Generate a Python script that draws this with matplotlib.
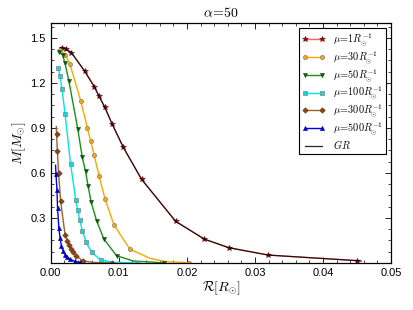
import matplotlib
matplotlib.use("Agg")
import matplotlib.pyplot as plt
from matplotlib.ticker import MultipleLocator

plt.rcParams['font.family'] = ['Liberation Sans', 'DejaVu Sans']
plt.rcParams['mathtext.fontset'] = 'cm'

# mu = 1 R_sun^-1
r1 = [0.00162, 0.00221, 0.00304, 0.0050, 0.00637, 0.00706, 0.00794, 0.00901,
      0.01066, 0.01334, 0.01834, 0.02257, 0.02618, 0.03196, 0.04496]
m1 = [1.434, 1.427, 1.401, 1.277, 1.176, 1.114, 1.037, 0.926,
      0.770, 0.557, 0.277, 0.158, 0.101, 0.052, 0.015]
# mu = 30
r30 = [0.00132, 0.00213, 0.00279, 0.00441, 0.00537, 0.00584, 0.00637, 0.0071,
       0.00799, 0.00929, 0.01162, 0.0146, 0.0170, 0.02037]
m30 = [1.419, 1.389, 1.329, 1.078, 0.901, 0.814, 0.718, 0.579,
       0.423, 0.252, 0.091, 0.030, 0.008, 0.001]
# mu = 50
r50 = [0.00125, 0.00172, 0.00206, 0.00265, 0.00397, 0.00463, 0.0051, 0.00549,
       0.00593, 0.00672, 0.00779, 0.00966, 0.0121, 0.01662]
m50 = [1.406, 1.386, 1.336, 1.215, 0.891, 0.703, 0.612, 0.510,
       0.405, 0.282, 0.160, 0.048, 0.013, 0.0]
# mu = 100
r100 = [0.0011, 0.00135, 0.00165, 0.0021, 0.0029, 0.00368, 0.00394, 0.00426,
        0.00463, 0.00519, 0.00599, 0.00732, 0.0093, 0.01284]
m100 = [1.299, 1.248, 1.159, 0.992, 0.661, 0.416, 0.354, 0.284,
        0.215, 0.136, 0.072, 0.019, 0.004, 0.0]
# mu = 300
r300 = [0.00081, 0.00084, 0.00097, 0.00115, 0.00144, 0.0021, 0.00243, 0.00268,
        0.00294, 0.00324, 0.00375, 0.00475, 0.0062, 0.00893]
m300 = [0.909, 0.859, 0.745, 0.597, 0.413, 0.186, 0.148, 0.117,
        0.094, 0.070, 0.045, 0.013, 0.003, 0.0]
# mu = 500
r500 = [0.0007, 0.00076, 0.00091, 0.00099, 0.00118, 0.00137, 0.00157, 0.00184,
        0.00213, 0.00243, 0.00287, 0.00353, 0.00426]
m500 = [0.651, 0.591, 0.483, 0.366, 0.235, 0.164, 0.111, 0.077,
        0.054, 0.037, 0.023, 0.010, 0.003]
# GR
rgr = [0.00140, 0.00162, 0.00221, 0.00304, 0.0050, 0.00637, 0.00706, 0.00794, 0.00901,
       0.01066, 0.01334, 0.01834, 0.02257, 0.02618, 0.03196, 0.04496, 0.0456]
mgr = [1.436, 1.434, 1.427, 1.401, 1.277, 1.176, 1.114, 1.037, 0.926,
       0.770, 0.557, 0.277, 0.158, 0.101, 0.052, 0.015, 0.012]

labels = [r'$\mu\!=\!1R_{\odot}^{-1}$', r'$\mu\!=\!30R_{\odot}^{-1}$',
          r'$\mu\!=\!50R_{\odot}^{-1}$', r'$\mu\!=\!100R_{\odot}^{-1}$',
          r'$\mu\!=\!300R_{\odot}^{-1}$', r'$\mu\!=\!500R_{\odot}^{-1}$']

def skip(n, drop):
    return [i for i in range(n) if i not in drop]

fig = plt.figure(figsize=(4.13, 3.10), dpi=100)
ax = fig.add_axes([0.123, 0.152, 0.824, 0.774])

ms = 3.0
ec = '#808080'
ax.plot(r1, m1, '-', color='#ff6060', lw=1.0, marker='*', ms=4.2, mfc='#a00000', mec='#600000', mew=0.4, label=labels[0])
ax.plot(r30, m30, '-', color='#ffa500', lw=1.0, marker='o', ms=ms, mfc='#ffa500', mec=ec, mew=0.5,
        markevery=skip(len(r30), [11, 12]), label=labels[1])
ax.plot(r50, m50, '-', color='#1a8f1a', lw=1.0, marker='v', ms=ms, mfc='#0a5a0a', mec='#0a5a0a', mew=0.4,
        markevery=skip(len(r50), [12]), label=labels[2])
ax.plot(r100, m100, '-', color='#00e5e5', lw=1.0, marker='s', ms=ms, mfc='#00e0e0', mec=ec, mew=0.5,
        markevery=skip(len(r100), [12]), label=labels[3])
ax.plot(r300, m300, '-', color='#a0602a', lw=1.0, marker='D', ms=2.8, mfc='#8b4513', mec='#6a3a10', mew=0.4,
        markevery=skip(len(r300), [0, 12]), label=labels[4])
ax.plot(r500, m500, '-', color='#0000ee', lw=1.0, marker='^', ms=ms, mfc='#0000cc', mec='#0000aa', mew=0.4,
        markevery=skip(len(r500), [0]), label=labels[5])
ax.plot(rgr, mgr, '-', color='black', lw=0.9, alpha=0.85, label=r'$GR$')

ax.set_xlim(0, 0.05)
ax.set_ylim(0, 1.6)
ax.set_xticks([0.0, 0.01, 0.02, 0.03, 0.04, 0.05])
ax.set_xticklabels(['0.00', '0.01', '0.02', '0.03', '0.04', '0.05'])
ax.set_yticks([0.3, 0.6, 0.9, 1.2, 1.5])
ax.xaxis.set_minor_locator(MultipleLocator(0.002))
ax.yaxis.set_minor_locator(MultipleLocator(0.075))
ax.tick_params(which='both', direction='in', top=True, right=True, labelsize=8)
ax.tick_params(which='major', length=4, width=0.6)
ax.tick_params(which='minor', length=2, width=0.5)
for s in ax.spines.values():
    s.set_linewidth(0.9)

ax.set_xlabel(r'$\mathcal{R}[R_{\odot}]$', fontsize=10, labelpad=1)
ax.set_ylabel(r'$M[M_{\odot}]$', fontsize=10, labelpad=2)
ax.set_title(r'$\alpha\!=\!50$', fontsize=10, pad=4)

leg = ax.legend(loc='upper right', fontsize=7.4, numpoints=2, fancybox=False,
                framealpha=1, edgecolor='black', handlelength=2.2,
                borderpad=0.3, labelspacing=0.12, handletextpad=0.8,
                borderaxespad=0.5)
leg.get_frame().set_linewidth(0.8)

fig.savefig('out.png', dpi=100)
